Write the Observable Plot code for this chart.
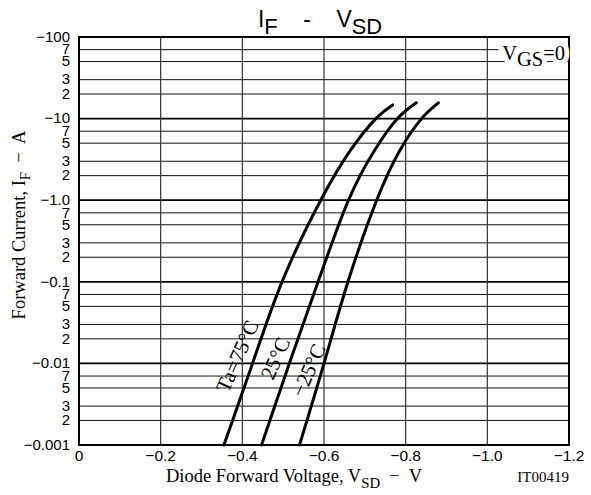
<!DOCTYPE html>
<html><head><meta charset="utf-8">
<script src="https://cdn.jsdelivr.net/npm/d3@7"></script>
<script src="https://cdn.jsdelivr.net/npm/@observablehq/plot@0.6"></script>
<style>body{margin:0;background:#fff}</style>
</head><body><div id="chart"></div>
<script>
// Curves: diode forward voltage (V) vs forward current (A)
const v75 = [-0.355, -0.425, -0.499, -0.592, -0.665, -0.727, -0.768];
const i75 = [-0.001, -0.01, -0.105, -1.0, -4.1, -10, -14.7];
const v25 = [-0.447, -0.515, -0.587, -0.660, -0.724, -0.780, -0.826];
const i25 = [-0.001, -0.01, -0.105, -1.0, -4.1, -10, -15.6];
const vm25 = [-0.540, -0.600, -0.660, -0.729, -0.786, -0.839, -0.880];
const im25 = [-0.001, -0.01, -0.105, -1.0, -4.1, -10, -15.6];

const curveLabels = ["Ta=75°C", "25°C", "−25°C"];
const labelV = [-0.3885, -0.4816, -0.5625];
const labelI = [-0.0122, -0.0115, -0.0082];

const xTicks = [0, -0.2, -0.4, -0.6, -0.8, -1.0, -1.2];
const xTickLabels = ["0", "−0.2", "−0.4", "−0.6", "−0.8", "−1.0", "−1.2"];
const yMajor = [-100, -10, -1, -0.1, -0.01, -0.001];
const yMajorLabels = ["−100", "−10", "−1.0", "−0.1", "−0.01", "−0.001"];
const yMinor = [-70, -50, -30, -20, -7, -5, -3, -2, -0.7, -0.5, -0.3, -0.2,
  -0.07, -0.05, -0.03, -0.02, -0.007, -0.005, -0.003, -0.002];
const yMinorLabels = ["7","5","3","2","7","5","3","2","7","5","3","2",
  "7","5","3","2","7","5","3","2"];

const curves = [
  ...v75.map((v, k) => ({v, i: i75[k], s: "75"})),
  ...v25.map((v, k) => ({v, i: i25[k], s: "25"})),
  ...vm25.map((v, k) => ({v, i: im25[k], s: "-25"}))
];
const labels = curveLabels.map((t, k) => ({t, v: labelV[k], i: labelI[k]}));
const yTicks = [...yMajor, ...yMinor];
const yLab = new Map([...yMajor.map((d, k) => [d, yMajorLabels[k]]), ...yMinor.map((d, k) => [d, yMinorLabels[k]])]);
const xLab = new Map(xTicks.map((d, k) => [d, xTickLabels[k]]));
const serif = "Liberation Serif, Times New Roman, serif";
const sans = "Liberation Sans, Arial, sans-serif";
const nb = "\u00a0";

const chart = Plot.plot({
  width: 591, height: 495,
  marginLeft: 78.5, marginRight: 22.5, marginTop: 36.5, marginBottom: 50.5,
  style: {fontFamily: sans, fontSize: "15px", background: "#fff", color: "#000"},
  x: {domain: [0, -1.2], axis: null},
  y: {type: "log", domain: [-0.001, -100], axis: null},
  marks: [
    Plot.ruleY(yMinor, {stroke: "#111", strokeWidth: 1}),
    Plot.ruleY(yMajor, {stroke: "#000", strokeWidth: 1.8}),
    Plot.ruleX(xTicks, {stroke: "#333", strokeWidth: 1.2}),
    Plot.frame({stroke: "#000", strokeWidth: 2}),
    Plot.text(yTicks, {y: d => d, text: d => yLab.get(d), frameAnchor: "left", textAnchor: "end", lineAnchor: "middle", dx: -9, fontSize: 15, fontFamily: sans, fill: "#000"}),
    Plot.text(xTicks, {x: d => d, text: d => xLab.get(d), frameAnchor: "bottom", lineAnchor: "top", dy: 5, fontSize: 15.5, fontFamily: sans, fill: "#000"}),
    Plot.line(curves, {x: "v", y: "i", z: "s", stroke: "#000", strokeWidth: 3, curve: "natural"}),
    Plot.text(labels, {x: "v", y: "i", text: "t", rotate: -66, fontSize: 21, fontFamily: serif, fill: "#000"}),
    Plot.text(["V_{GS}=0"], {className: "sub100", frameAnchor: "top-right", textAnchor: "end", dx: -4, dy: 8, fontSize: 20.5, fontFamily: serif, fill: "#000", stroke: "#fff", strokeWidth: 10}),
    Plot.text([`I_{F}${nb}${nb}${nb}${nb}-${nb}${nb}${nb}${nb}V_{SD}`], {className: "sub95", frameAnchor: "top", dy: -26, dx: -4, fontSize: 23, fontFamily: sans, fill: "#000"}),
    Plot.text(["Forward Current, I_{F}  −  A"], {frameAnchor: "left", textAnchor: "middle", rotate: -90, dx: -60, dy: -16, fontSize: 18.5, fontFamily: serif, fill: "#000"}),
    Plot.text(["Diode Forward Voltage, V_{SD}  −  V"], {frameAnchor: "bottom", textAnchor: "middle", dx: -30, dy: 37, fontSize: 18.5, fontFamily: serif, fill: "#000"}),
    Plot.text(["IT00419"], {frameAnchor: "bottom-right", textAnchor: "end", dx: 0, dy: 37, fontSize: 15, fontFamily: serif, fill: "#000"})
  ]
});
document.getElementById("chart").appendChild(chart);

// render _{...} as subscripts
d3.select(chart).selectAll("text").each(function() {
  const t = this.textContent;
  if (!t.includes("_{")) return;
  const g = this.closest("g");
  const factor = g && g.classList.contains("sub95") ? 0.95 : g && g.classList.contains("sub100") ? 1.0 : 0.8;
  const fs = parseFloat(getComputedStyle(this).fontSize) || 14;
  const shift = fs * 0.3;
  const el = d3.select(this);
  el.text(null);
  let shifted = false;
  t.split(/(_\{[^}]*\})/).forEach(p => {
    if (!p) return;
    if (p.startsWith("_{")) {
      el.append("tspan").attr("dy", shift).attr("font-size", fs * factor).text(p.slice(2, -1));
      shifted = true;
    } else {
      const ts = el.append("tspan").text(p);
      if (shifted) { ts.attr("dy", -shift); shifted = false; }
    }
  });
});
</script>
</body></html>
